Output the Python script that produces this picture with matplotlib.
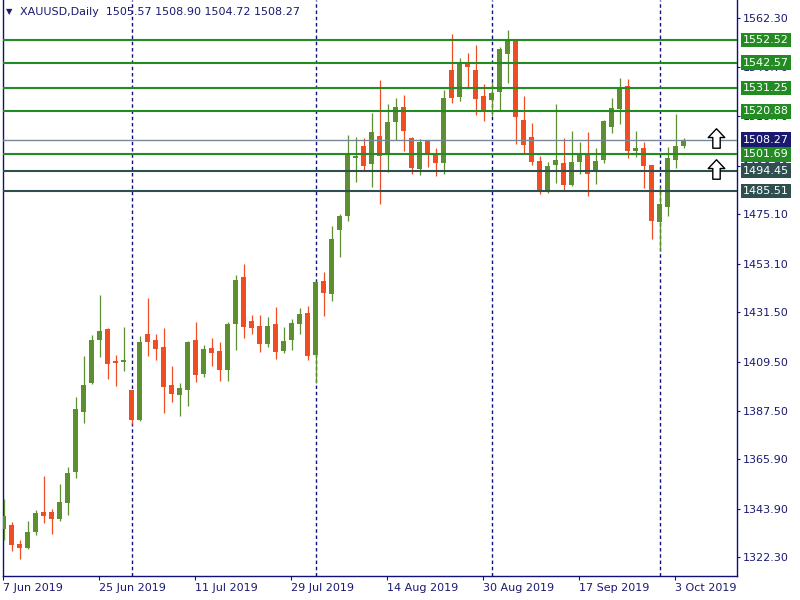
import numpy as np
import pandas as pd
import matplotlib
matplotlib.use('Agg')
import matplotlib.pyplot as plt
from matplotlib.path import Path

# daily bars, 7 Jun 2019 .. 4 Oct 2019 (weekdays)
dates = pd.bdate_range('2019-06-07', '2019-10-04')

opens = [1335.04, 1336.68, 1328.22, 1326.58, 1333.70, 1342.47, 1342.47, 1339.49, 1346.61, 1360.42,
         1387.13, 1400.05, 1419.19, 1423.96, 1409.84, 1409.40, 1396.79, 1383.57, 1421.73, 1419.06,
         1415.94, 1399.02, 1394.70, 1396.79, 1419.06, 1403.92, 1415.50, 1414.16, 1405.83, 1426.18,
         1447.11, 1427.52, 1425.29, 1417.41, 1426.18, 1414.29, 1419.19, 1426.32, 1431.08, 1412.51,
         1445.33, 1439.67, 1468.17, 1474.41, 1500.23, 1505.44, 1497.43, 1509.89, 1501.57, 1516.13,
         1522.81, 1509.00, 1495.20, 1507.67, 1502.32, 1497.87, 1539.28, 1527.26, 1542.40, 1539.28,
         1527.70, 1525.92, 1529.49, 1546.41, 1552.19, 1517.02, 1509.45, 1498.76, 1485.54, 1497.11,
         1497.87, 1488.08, 1498.45, 1501.88, 1494.00, 1499.34, 1514.03, 1522.05, 1532.16, 1503.35,
         1504.55, 1496.98, 1471.73, 1478.41, 1499.34, 1505.57]
highs = [1348.26, 1338.02, 1330.00, 1338.60, 1343.36, 1358.50, 1343.81, 1354.94, 1362.51, 1393.68,
         1411.93, 1421.28, 1439.10, 1424.40, 1412.51, 1424.85, 1397.00, 1420.84, 1437.76, 1421.73,
         1424.40, 1407.48, 1399.91, 1418.75, 1427.07, 1416.83, 1419.95, 1418.17, 1427.07, 1448.00,
         1452.90, 1430.19, 1430.19, 1429.30, 1433.75, 1424.85, 1428.41, 1433.31, 1434.20, 1445.33,
         1449.34, 1469.82, 1475.16, 1510.34, 1509.45, 1509.00, 1520.13, 1534.83, 1524.14, 1526.81,
         1528.15, 1509.45, 1508.56, 1507.80, 1504.55, 1530.38, 1555.31, 1544.62, 1546.85, 1550.41,
         1533.05, 1533.94, 1549.52, 1557.09, 1553.08, 1527.70, 1515.68, 1500.99, 1498.32, 1524.14,
         1509.00, 1512.12, 1507.22, 1511.67, 1504.55, 1517.02, 1526.81, 1535.72, 1535.27, 1512.12,
         1507.22, 1497.20, 1487.32, 1505.00, 1519.69, 1508.90]
lows = [1330.00, 1325.24, 1321.41, 1326.13, 1332.36, 1337.71, 1332.81, 1338.60, 1341.27, 1357.74,
        1382.23, 1399.60, 1411.62, 1401.83, 1398.71, 1405.39, 1381.66, 1383.12, 1412.07, 1410.29,
        1386.69, 1391.58, 1385.35, 1389.67, 1400.49, 1402.72, 1407.61, 1401.02, 1400.80, 1414.61,
        1420.08, 1421.86, 1413.85, 1416.07, 1410.73, 1413.40, 1414.74, 1421.86, 1410.29, 1399.91,
        1429.74, 1436.56, 1456.15, 1472.18, 1489.54, 1494.44, 1487.18, 1479.61, 1493.86, 1508.11,
        1503.21, 1492.97, 1492.53, 1496.09, 1492.08, 1492.97, 1524.59, 1525.48, 1531.27, 1519.24,
        1516.57, 1518.80, 1521.47, 1533.49, 1506.33, 1502.32, 1496.98, 1484.20, 1484.65, 1489.10,
        1485.54, 1487.85, 1493.11, 1483.31, 1488.65, 1498.00, 1511.36, 1515.37, 1500.23, 1500.68,
        1486.87, 1464.16, 1458.82, 1474.41, 1495.78, 1504.72]
closes = [1340.69, 1327.78, 1326.58, 1333.57, 1342.03, 1340.82, 1339.49, 1346.92, 1359.84, 1388.33,
          1399.02, 1419.06, 1423.07, 1408.51, 1408.95, 1410.29, 1383.57, 1418.17, 1418.30, 1415.18,
          1398.26, 1395.15, 1397.69, 1418.17, 1403.47, 1415.05, 1413.40, 1405.83, 1426.18, 1445.77,
          1424.98, 1424.54, 1417.41, 1425.29, 1413.85, 1418.61, 1426.63, 1430.64, 1412.07, 1444.88,
          1440.12, 1464.03, 1474.27, 1501.88, 1500.99, 1496.67, 1511.67, 1500.99, 1516.13, 1522.81,
          1512.12, 1495.64, 1507.22, 1501.88, 1497.87, 1526.81, 1526.81, 1542.40, 1540.62, 1526.37,
          1520.58, 1529.04, 1548.63, 1552.64, 1518.35, 1505.89, 1498.32, 1485.54, 1496.54, 1499.21,
          1488.08, 1498.32, 1501.57, 1493.11, 1498.76, 1516.57, 1522.36, 1531.40, 1503.35, 1504.55,
          1496.67, 1472.18, 1479.61, 1500.10, 1505.50, 1508.27]

levels_green = [1552.52, 1542.57, 1531.25, 1520.88, 1501.69]
levels_dark = [1494.45, 1485.51]
yticks = [1562.30, 1540.70, 1518.70, 1496.70, 1475.10, 1453.10, 1431.50,
          1409.50, 1387.50, 1365.90, 1343.90, 1322.30]
arrow_bars = [89, 89]
arrow_prices = [1509.2, 1495.2]

GREEN = '#5b8f2f'
RED = '#f04d23'
NAVY = '#10107a'
TXT = '#1a1a70'

fig = plt.figure(figsize=(8, 6), dpi=100)
ax = fig.add_axes([2.5 / 800, 24 / 600, 734 / 800, 576 / 600])

x = np.arange(len(dates))
o, h, l, c = map(np.array, (opens, highs, lows, closes))
col = np.where(c >= o, GREEN, RED)

# month separators
month_start = [i for i in range(1, len(dates)) if dates[i].month != dates[i - 1].month]
for i in month_start:
    ax.axvline(i, color=NAVY, lw=1, dashes=(2.5, 2), zorder=1)

ax.vlines(x, l, h, colors=col, lw=0.9, zorder=3)
ax.bar(x, np.maximum(np.abs(c - o), 0.5), bottom=np.minimum(o, c), width=0.62,
       color=col, linewidth=0, zorder=4)

# horizontal levels
ax.axhline(closes[-1], color='#778899', lw=1, zorder=5)
for p in levels_green:
    ax.axhline(p, color='#228b22', lw=1.5, zorder=5)
for p in levels_dark:
    ax.axhline(p, color='#2f4f4f', lw=1.5, zorder=5)

# arrow objects
arr = Path([(0, 1), (0.85, 0.1), (0.38, 0.1), (0.38, -1), (-0.38, -1), (-0.38, 0.1),
            (-0.85, 0.1), (0, 1)],
           [Path.MOVETO] + [Path.LINETO] * 6 + [Path.CLOSEPOLY])
ax.plot(arrow_bars, arrow_prices, ls='none', marker=arr, ms=14, mfc='white',
        mec='black', mew=1, zorder=6, clip_on=False)

ax.set_xlim(-0.125, 91.625)
ax.set_ylim(1314.0, 1570.45)

ax.yaxis.tick_right()
ax.set_yticks(yticks)
ax.set_yticklabels([f'{v:.2f}' for v in yticks])
ax.tick_params(axis='y', direction='out', length=2.5, width=0.8, color=NAVY,
               labelsize=8, pad=2, labelcolor=TXT)

tick_idx = x[::12]
ax.set_xticks(tick_idx - 0.1)
ax.set_xticklabels([f"{dates[i].day} {dates[i].strftime('%b %Y')}" for i in tick_idx], ha='left')
ax.tick_params(axis='x', direction='out', length=3, width=0.8, color=NAVY,
               labelsize=8, pad=2, labelcolor=TXT)

ax.spines['top'].set_visible(False)
for s in ['left', 'right', 'bottom']:
    ax.spines[s].set_color(NAVY)
    ax.spines[s].set_linewidth(1)

# price boxes on the right scale
boxes = [(p, '#228b22') for p in levels_green] + [(p, '#2f4f4f') for p in levels_dark] \
    + [(closes[-1], '#191970')]
for p, fc in boxes:
    ax.text(1.0085, p, f'{p:.2f}', transform=ax.get_yaxis_transform(), ha='left',
            va='center', color='white', fontsize=8, zorder=7, clip_on=False,
            bbox=dict(boxstyle='square,pad=0.2', fc=fc, ec='none'))

# header
fig.text(6 / 800, 1 - 12 / 600, '\u25bc', fontsize=6, color=TXT, va='center')
fig.text(20 / 800, 1 - 12 / 600,
         f'XAUUSD,Daily  {opens[-1]:.2f} {highs[-1]:.2f} {lows[-1]:.2f} {closes[-1]:.2f}',
         fontsize=8, color=TXT, va='center')

fig.savefig('out.png', dpi=100)
